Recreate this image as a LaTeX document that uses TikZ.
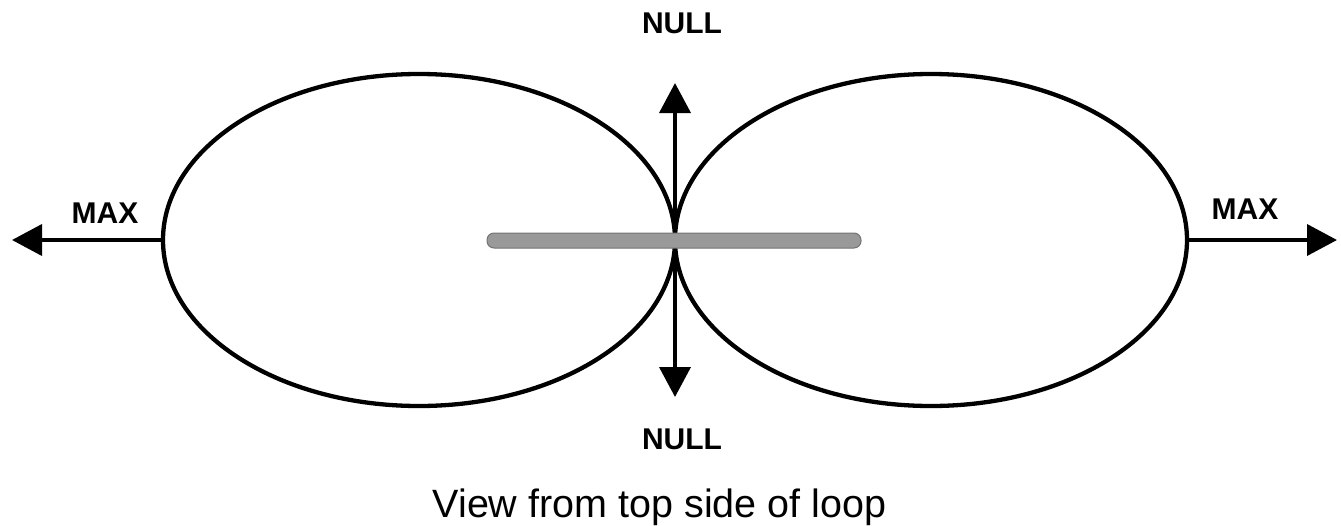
\documentclass[tikz,border=0pt]{standalone}
\usepackage{fontspec}
\setmainfont{Liberation Sans}
\usetikzlibrary{shapes.geometric,arrows.meta}
\begin{document}
\begin{tikzpicture}[x=1pt,y=-1pt,
  lobe/.style={draw=black,line width=4.3pt,ellipse,inner sep=0pt,minimum width=512pt,minimum height=332pt},
  arr/.style={line width=3.8pt,-{Triangle[length=30pt,width=31pt]}},
  lbl/.style={font=\fontsize{30}{32}\selectfont\bfseries,inner sep=0pt},
  loopbar/.style={draw=black!55,line width=1pt,fill=black!40,rounded corners=7pt,inner sep=0pt,minimum width=374pt,minimum height=15pt}]
\useasboundingbox (0,0) rectangle (1341,525);
\node[lobe] (lobeL) at (419,240) {};
\node[lobe] (lobeR) at (931,240) {};
\coordinate (c) at (675,240);
\coordinate (tipL) at (12,240);
\coordinate (tipR) at (1337,240);
\coordinate (tipT) at (675,83);
\coordinate (tipB) at (675,397);
\draw[arr] (lobeL.west) -- (tipL);
\draw[arr] (lobeR.east) -- (tipR);
\draw[arr] (c) -- (tipT);
\draw[arr] (c) -- (tipB);
\node[loopbar] (bar) at (674,240.5) {};
\node[lbl] (nullT) at (682,23) {NULL};
\node[lbl] (nullB) at (682,439) {NULL};
\node[lbl] (maxL) at (105,213) {MAX};
\node[lbl] (maxR) at (1245,209) {MAX};
\node[font=\fontsize{39.5}{42}\selectfont,inner sep=0pt,anchor=base] (cap) at (659.5,517) {View from top side of loop};
\end{tikzpicture}
\end{document}
